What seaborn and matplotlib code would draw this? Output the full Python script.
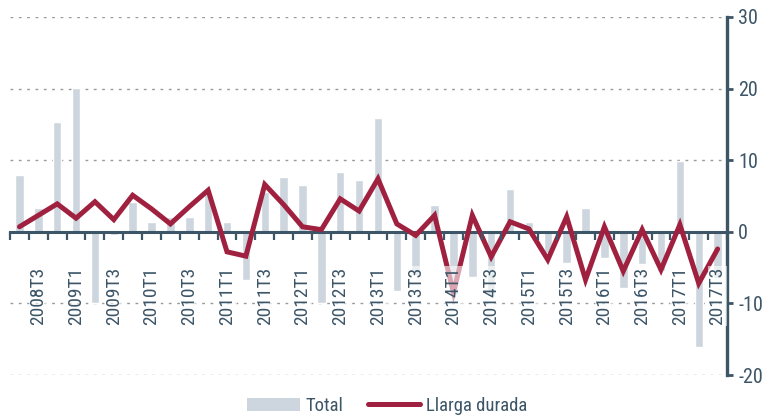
import numpy as np
import pandas as pd
import matplotlib
matplotlib.use('Agg')
import matplotlib.pyplot as plt
import seaborn as sns
from matplotlib.patches import Patch
from matplotlib.lines import Line2D
from matplotlib import font_manager

# Trimestres (2008T2 - 2017T3)
trimestres = ['2008T2', '2008T3', '2008T4', '2009T1', '2009T2', '2009T3', '2009T4',
              '2010T1', '2010T2', '2010T3', '2010T4', '2011T1', '2011T2', '2011T3',
              '2011T4', '2012T1', '2012T2', '2012T3', '2012T4', '2013T1', '2013T2',
              '2013T3', '2013T4', '2014T1', '2014T2', '2014T3', '2014T4', '2015T1',
              '2015T2', '2015T3', '2015T4', '2016T1', '2016T2', '2016T3', '2016T4',
              '2017T1', '2017T2', '2017T3']

total = [8.0, 3.3, 15.4, 20.1, -9.9, -0.5, 4.2,
         1.4, 2.1, 2.1, 5.3, 1.4, -6.8, 5.5,
         7.7, 6.5, -9.9, 8.4, 7.3, 15.9, -8.3,
         -6.0, 3.8, -8.8, -6.3, -9.0, 6.0, 1.4,
         -3.0, -4.4, 3.3, -3.7, -7.9, -4.5, -5.5,
         9.9, -16.1, -6.5]

llarga_durada = [0.7, 2.3, 3.9, 1.9, 4.2, 1.7, 5.1,
                 3.2, 1.1, 3.5, 5.8, -2.8, -3.4, 6.6,
                 3.8, 0.7, 0.3, 4.6, 2.9, 7.4, 1.1,
                 -0.5, 2.3, -8.5, 2.3, -3.5, 1.4, 0.4,
                 -3.9, 2.1, -6.7, 0.7, -5.5, 0.3, -5.3,
                 1.0, -7.2, -2.4]

y_ticks = [-20, -10, 0, 10, 20, 30]

# Colores
color_barra = '#CDD6DE'
color_linea = '#A0213F'
color_eje = '#3C5567'

df = pd.DataFrame({'Trimestre': trimestres, 'Total': total,
                   'Llarga durada': llarga_durada})
df['pos'] = np.arange(len(df))

sns.set_style('white')
# Fuente estrecha si existe
nombres = {f.name for f in font_manager.fontManager.ttflist}
condensadas = [n for n in ['Liberation Sans Narrow', 'DejaVu Sans Condensed',
                           'Roboto Condensed', 'Open Sans Condensed'] if n in nombres]
plt.rcParams['font.family'] = condensadas + ['DejaVu Sans']
plt.rcParams['font.stretch'] = 'condensed'
plt.rcParams['axes.unicode_minus'] = False

fig = plt.figure(figsize=(7.71, 4.17), dpi=100)
ax = fig.add_axes([0.013, 0.1007, 0.930, 0.8586])

sns.barplot(data=df, x='Trimestre', y='Total', color=color_barra, width=0.45,
            saturation=1, ax=ax, zorder=1)
sns.lineplot(data=df, x='pos', y='Llarga durada', color=color_linea,
             linewidth=3.6, ax=ax, zorder=3)
for l in ax.lines:
    l.set_solid_joinstyle('miter')

ax.set_xlim(-0.5, len(df) - 0.5)
ax.set_ylim(-20, 30)

# Eje Y a la derecha
ax.yaxis.tick_right()
ax.set_yticks(y_ticks)
ax.tick_params(axis='y', direction='out', length=4, width=2, color=color_eje,
               labelsize=14.5, labelcolor=color_eje, pad=4, right=True, left=False)
for v in [-20, -10, 10, 20, 30]:
    ax.axhline(v, color='#9A9A9A', linewidth=1.0, linestyle=(0, (2, 4)), zorder=0)

# Eje X en el cero
ax.spines['bottom'].set_position(('data', 0))
ax.spines['bottom'].set_color(color_eje)
ax.spines['bottom'].set_linewidth(2.2)
ax.spines['right'].set_color(color_eje)
ax.spines['right'].set_linewidth(2.4)
ax.spines['top'].set_visible(False)
ax.spines['left'].set_visible(False)

pos_etiquetas = df['pos'][1::2]
ax.set_xticks(pos_etiquetas)
ax.set_xticklabels(df['Trimestre'][1::2], rotation=90)
ax.set_xticks(np.arange(len(df) + 1) - 0.5, minor=True)
ax.tick_params(axis='x', which='major', length=0, pad=25, labelsize=14,
               labelcolor=color_eje)
ax.tick_params(axis='x', which='minor', length=6, width=1.6, color=color_eje,
               direction='out', bottom=True)
for t in ax.get_xticklabels():
    t.set_bbox(dict(facecolor='white', alpha=0.6, edgecolor='none', pad=0.5))
ax.xaxis.set_zorder(4)

ax.set_xlabel('')
ax.set_ylabel('')
if ax.get_legend():
    ax.get_legend().remove()

handles = [Patch(facecolor=color_barra, edgecolor='none', label='Total'),
           Line2D([0], [0], color=color_linea, linewidth=3.6, label='Llarga durada')]
fig.legend(handles=handles, loc='center', bbox_to_anchor=(0.502, 0.027), ncol=2,
           frameon=False, fontsize=13.5, labelcolor=color_eje, handlelength=2.8,
           handleheight=0.7, handletextpad=0.3, columnspacing=1.3)

fig.savefig('out.png', dpi=100)
